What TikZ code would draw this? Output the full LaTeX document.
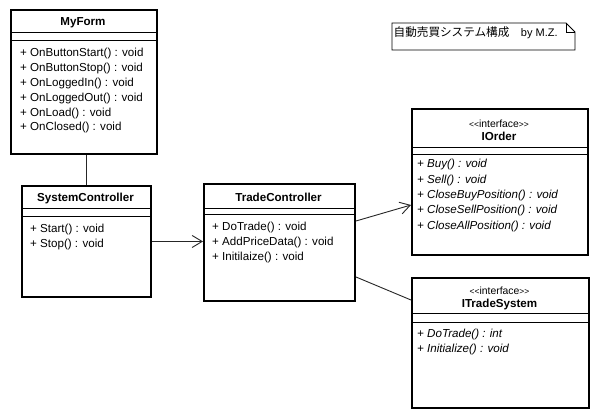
\documentclass[tikz,border=0pt]{standalone}
\usepackage{fontspec}
\setmainfont{Liberation Sans}
\newfontfamily\jpfont{Noto Sans CJK JP}
\usetikzlibrary{arrows.meta}
\newcommand{\stereotxt}{{\fontsize{8.5}{10}\selectfont<\kern0pt<}interface{\fontsize{8.5}{10}\selectfont>\kern0pt>}}
\begin{document}
\begin{tikzpicture}[x=1pt,y=-1pt,
  classbox/.style={draw=black,line width=2pt,fill=white,inner sep=0pt,anchor=north west},
  sep/.style={line width=0.9pt},
  meth/.style={anchor=base west,inner sep=0pt,font=\fontsize{11.6}{13}\selectfont},
  imeth/.style={meth,font=\fontsize{11.6}{13}\selectfont\itshape},
  cname/.style={anchor=base,inner sep=0pt,font=\fontsize{11.6}{13}\selectfont\bfseries},
  stereo/.style={anchor=base,inner sep=0pt,font=\fontsize{10.4}{12}\selectfont},
  assoc/.style={line width=0.9pt,draw=black!85},
  nav/.style={assoc,-{Straight Barb[length=10pt,width=12pt,line width=0.9pt]}}
]
\useasboundingbox (0,0) rectangle (598,419);
\fill[white] (0,0) rectangle (598,419);

% ---------- MyForm
\node[classbox,minimum width=146pt,minimum height=144pt] (mf) at (10,9) {};
\draw[sep] (10,32) -- (156,32) (10,40) -- (156,40);
\node[cname] (mfn) at (83,26) {MyForm};
\node[meth] (mf1) at (20,57) {+ OnButtonStart() : void};
\node[meth] (mf2) at (20,71.8) {+ OnButtonStop() : void};
\node[meth] (mf3) at (20,86.6) {+ OnLoggedIn() : void};
\node[meth] (mf4) at (20,101.4) {+ OnLoggedOut() : void};
\node[meth] (mf5) at (20,116.2) {+ OnLoad() : void};
\node[meth] (mf6) at (20,131) {+ OnClosed() : void};

% ---------- SystemController
\node[classbox,minimum width=129pt,minimum height=111pt] (sc) at (21,185) {};
\draw[sep] (21,208) -- (150,208) (21,216) -- (150,216);
\node[cname] (scn) at (85.5,202) {SystemController};
\node[meth] (sc1) at (30,233) {+ Start() : void};
\node[meth] (sc2) at (30,247.5) {+ Stop() : void};

% ---------- TradeController
\node[classbox,minimum width=151pt,minimum height=117pt] (tc) at (203,183) {};
\draw[sep] (203,208) -- (354,208) (203,214) -- (354,214);
\node[cname] (tcn) at (278.5,201.5) {TradeController};
\node[meth] (tc1) at (212,230.5) {+ DoTrade() : void};
\node[meth] (tc2) at (212,245.5) {+ AddPriceData() : void};
\node[meth] (tc3) at (212,260.5) {+ Initilaize() : void};

% ---------- IOrder
\node[classbox,minimum width=176pt,minimum height=146pt] (io) at (411,108) {};
\draw[sep] (411,147) -- (587,147) (411,154) -- (587,154);
\node[stereo] (ios) at (499,128) {\stereotxt};
\node[cname] (ion) at (499,140.5) {IOrder};
\node[imeth] (io1) at (417,168) {+ Buy() : void};
\node[imeth] (io2) at (417,183.3) {+ Sell() : void};
\node[imeth] (io3) at (417,198.6) {+ CloseBuyPosition() : void};
\node[imeth] (io4) at (417,213.9) {+ CloseSellPosition() : void};
\node[imeth] (io5) at (417,229.2) {+ CloseAllPosition() : void};

% ---------- ITradeSystem
\node[classbox,minimum width=177pt,minimum height=130pt] (its) at (411,277) {};
\draw[sep] (411,313) -- (588,313) (411,322) -- (588,322);
\node[stereo] (itss) at (499.5,295) {\stereotxt};
\node[cname] (itsn) at (499.5,307.5) {ITradeSystem};
\node[imeth] (its1) at (417,338) {+ DoTrade() : int};
\node[imeth] (its2) at (417,353) {+ Initialize() : void};

% ---------- note
\draw[line width=0.9pt,fill=white] (392,23) -- (566,23) -- (575,32) -- (575,50) -- (392,50) -- cycle;
\draw[line width=0.9pt] (566,23) -- (566,32) -- (575,32);
\node[anchor=base west,inner sep=0pt] (note) at (393.5,36.5)
  {{\jpfont\fontsize{11.6}{13}\selectfont 自動売買システム構成　}{\fontsize{11}{13}\selectfont by M.Z.}};

% ---------- connectors
\draw[assoc] (mf.south -| sc.north) -- (sc.north);
\draw[nav] (sc.east) -- (sc.east -| tc.west);
\draw[nav] ([yshift=-38pt]tc.north east) -- ([yshift=-97pt]io.north west);
\draw[assoc] ([yshift=-94pt]tc.north east) -- ([yshift=-23pt]its.north west);
\end{tikzpicture}
\end{document}
